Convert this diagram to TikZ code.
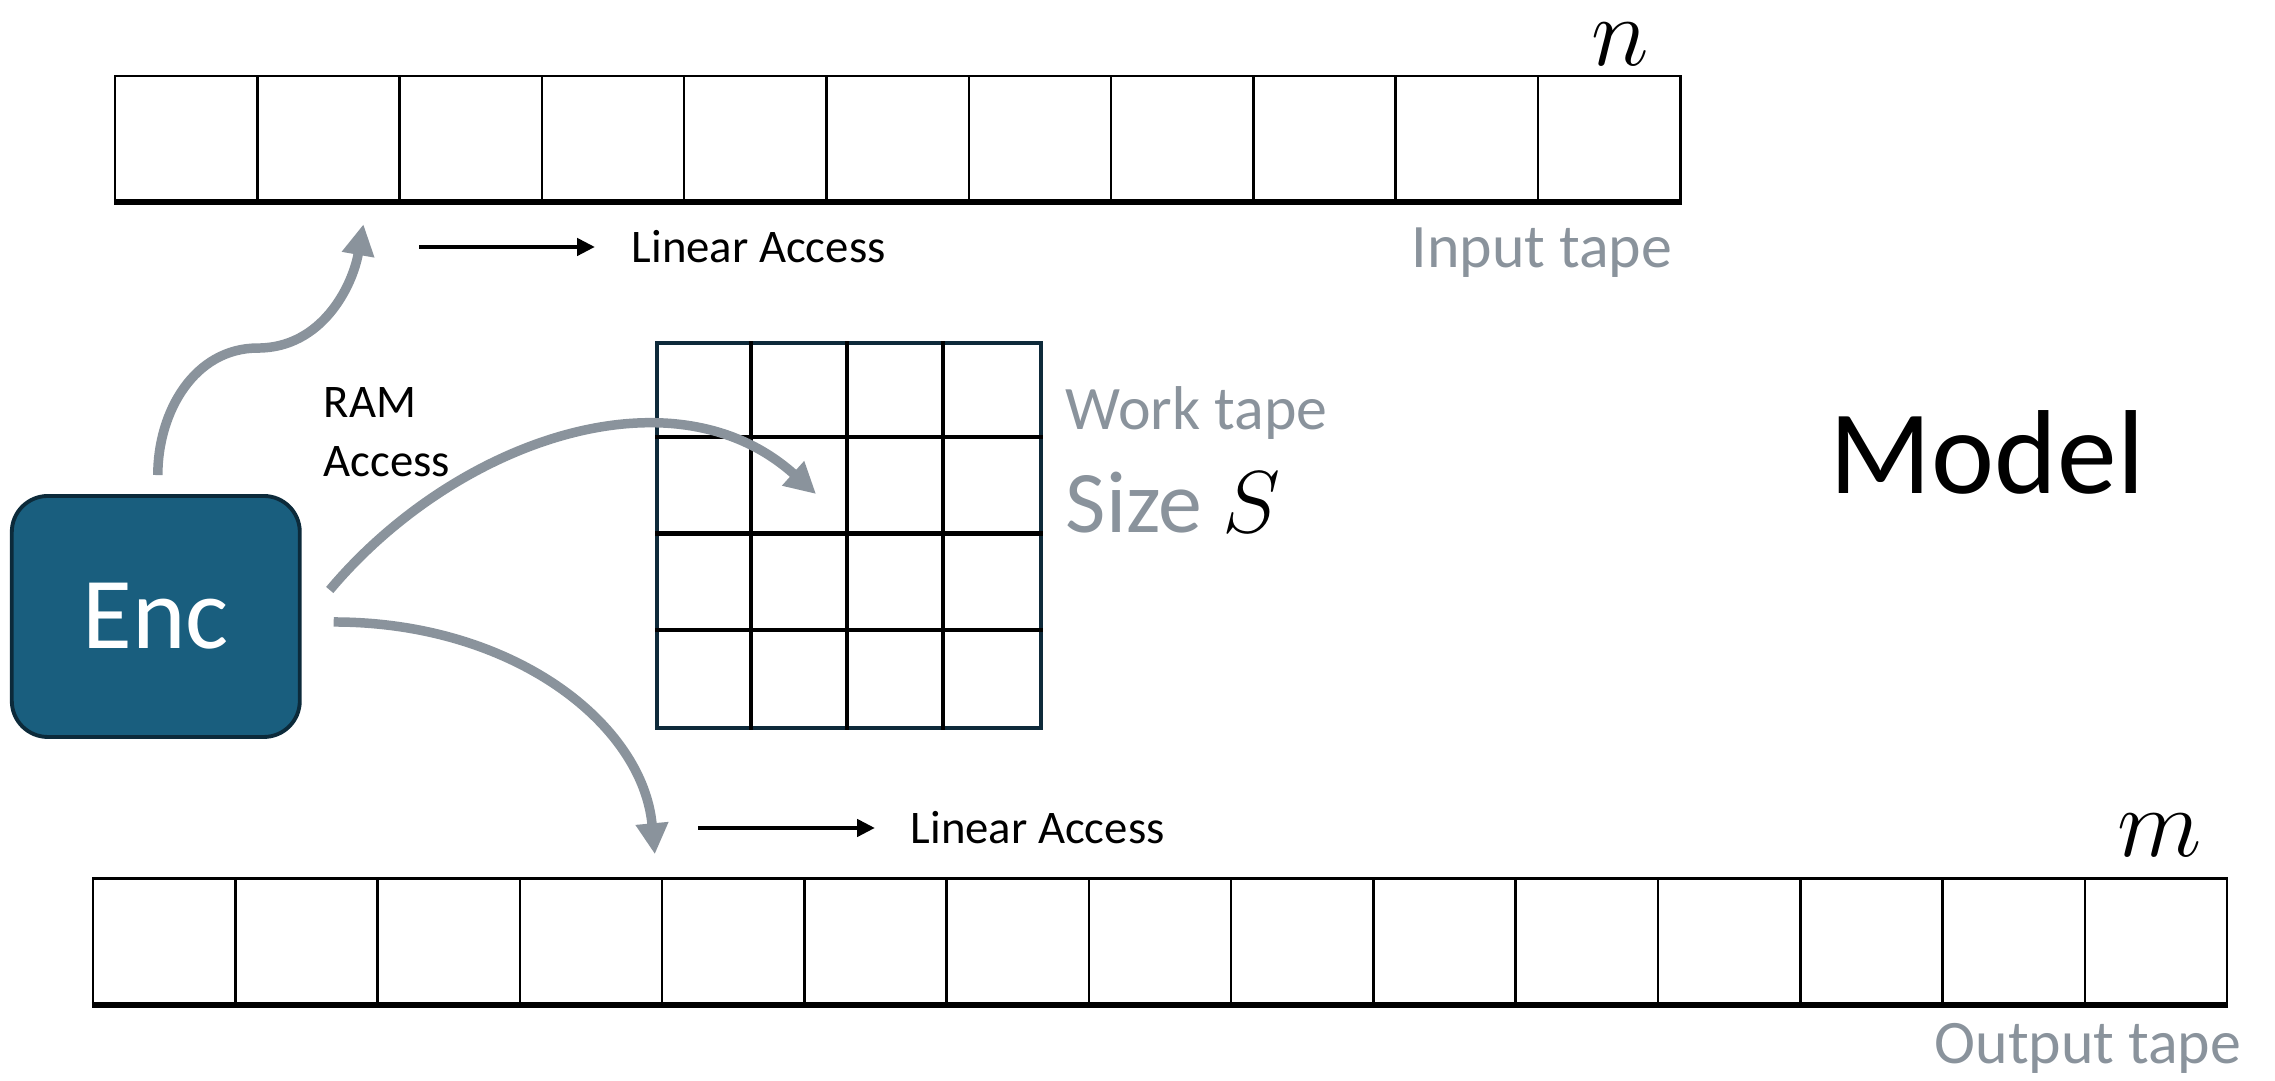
\documentclass[tikz,border=0pt]{standalone}
\usepackage{fix-cm}
\usepackage{fontspec}
\setmainfont{Carlito}
\usetikzlibrary{arrows.meta, positioning, calc}
\definecolor{enccolor}{RGB}{25,94,126}
\definecolor{encedge}{RGB}{12,42,58}
\definecolor{accesscolor}{RGB}{138,147,156}
\definecolor{gridedge}{RGB}{14,42,58}

\begin{document}
\begin{tikzpicture}[
    cell/.style={rectangle, draw=black, line width=0.7pt, inner sep=0pt,
        minimum width=1.423cm, minimum height=1.25cm},
    tapebase/.style={line width=1.6pt, black},
    workgrid/.style={rectangle, draw=gridedge, line width=1.1pt, inner sep=0pt,
        minimum width=3.84cm, minimum height=3.85cm},
    gridline/.style={line width=1.2pt, black},
    encbox/.style={rectangle, draw=encedge, fill=enccolor, line width=1.1pt,
        rounded corners=0.36cm, minimum width=2.88cm, minimum height=2.41cm,
        text=white, font=\fontsize{29}{34}\selectfont},
    linarrow/.style={-{Triangle[length=0.18cm, width=0.17cm]}, line width=1.4pt, black},
    ramarrow/.style={-{Triangle[length=0.31cm, width=0.31cm]}, line width=2.7pt, accesscolor},
    accesslabel/.style={inner sep=0pt, font=\fontsize{13.3}{16.8}\selectfont},
    tapelabel/.style={inner sep=0pt, text=accesscolor, font=\fontsize{17.6}{21}\selectfont},
    lenlabel/.style={inner sep=0pt, font=\fontsize{28}{33}\selectfont},
]
\useasboundingbox (0,0) rectangle (22.75,10.81);

% === INPUT TAPE ===
\foreach \i in {1,...,11}
    \node[cell] (in\i) at ({1.15+1.423*(\i-0.5)}, 9.425) {};
\draw[tapebase] (in1.south west) -- (in11.south east);
\node[lenlabel, anchor=base] (nlen) at (16.20, 10.15) {$n$};
\node[tapelabel, anchor=base east] (inlabel) at (16.73, 8.13) {Input tape};

% === WORK TAPE ===
\node[workgrid] (work) at (8.49, 5.455) {};
\foreach \k in {1,2,3} {
    \draw[gridline] ($(work.north west)+(0.96*\k,0)$) -- ($(work.south west)+(0.96*\k,0)$);
    \draw[gridline] ($(work.north west)+(0,-0.9625*\k)$) -- ($(work.north east)+(0,-0.9625*\k)$);
}
\node[tapelabel, anchor=base west] (worklabel) at (10.65, 6.51) {Work tape};
\node[tapelabel, anchor=base west, font=\fontsize{25}{30}\selectfont] (sizelabel) at (10.65, 5.48) {Size \textcolor{black}{$S$}};

% === OUTPUT TAPE ===
\foreach \i in {1,...,15}
    \node[cell] (out\i) at ({0.93+1.4227*(\i-0.5)}, 1.40) {};
\draw[tapebase] (out1.south west) -- (out15.south east);
\node[lenlabel, anchor=base] (mlen) at (21.60, 2.24) {$m$};
\node[tapelabel, anchor=base east] (outlabel) at (22.42, 0.17) {Output tape};

% === ENCODER ===
\node[encbox] (enc) at (1.558, 4.645) {Enc};
\node[font=\fontsize{34}{40}\selectfont, inner sep=0pt, anchor=base west] (model) at (18.29, 5.87) {Model};

% Access labels
\node[accesslabel, anchor=west] (linin) at (6.31, 8.34) {Linear Access};
\node[accesslabel, anchor=west] (linout) at (9.10, 2.53) {Linear Access};
\node[accesslabel, anchor=north west, align=left] (ram) at (3.23, 6.94) {RAM\\Access};

% === ARROWS ===
\draw[linarrow] ($(linin.west)+(-2.12,0)$) -- ($(linin.west)+(-0.36,0)$);
\draw[linarrow] ($(linout.west)+(-2.12,0)$) -- ($(linout.west)+(-0.35,0)$);

\coordinate (rambend) at ($(enc.north)+(1.02,1.46)$);
\draw[ramarrow] ($(enc.north)+(0.02,0.19)$) to[out=90, in=180] (rambend)
    to[out=0, in=-100] ($(in2.south)+(0.35,-0.22)$);
\draw[ramarrow] ($(enc.east)+(0.28,0.265)$) to[out=50, in=138] ($(work.north west)+(1.61,-1.53)$);
\draw[ramarrow] ($(enc.east)+(0.32,-0.055)$) .. controls +(1.8,0) and +(-0.12,1.3) .. ($(out5.north west)+(-0.06,0.23)$);

\end{tikzpicture}
\end{document}
